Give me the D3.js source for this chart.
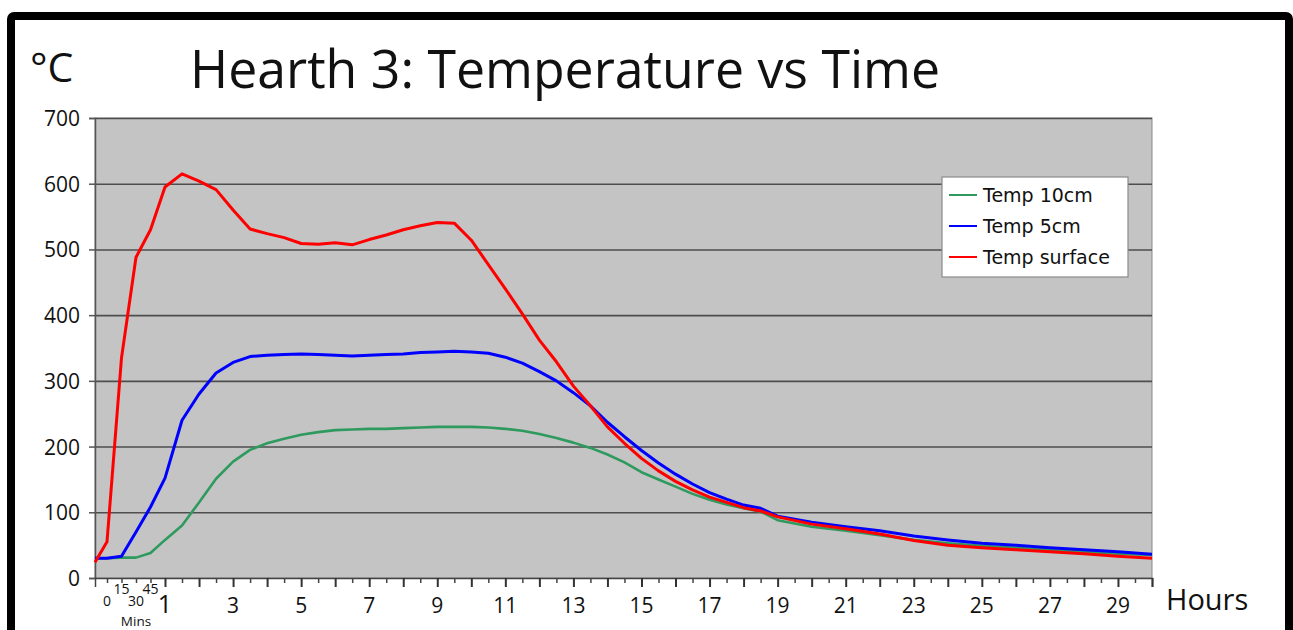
<!DOCTYPE html>
<html>
<head>
<meta charset="utf-8">
<script src="https://cdn.jsdelivr.net/npm/d3@7"></script>
<style>
  html, body { margin: 0; padding: 0; background: #ffffff; }
  svg { display: block; }
</style>
</head>
<body>
<svg id="chart" width="1293" height="630"></svg>
<script>
// ---------------- DATA ----------------
const hours = [-0.2, 0, 0.25, 0.5, 0.75, 1, 1.5, 2, 2.5, 3, 3.5, 4, 4.5, 5, 5.5, 6, 6.5, 7, 7.5, 8, 8.5, 9, 9.5, 10, 10.5, 11, 11.5, 12, 12.5, 13, 13.5, 14, 14.5, 15, 15.5, 16, 16.5, 17, 17.5, 18, 18.5, 19, 20, 21, 22, 23, 24, 25, 26, 27, 28, 29, 30];
const temp10cm = [30, 30, 31, 31, 38, 58, 80, 115, 151, 177, 195, 205, 212, 218, 222, 225, 226, 227, 227, 228, 229, 230, 230, 230, 229, 227, 224, 219, 213, 206, 198, 188, 176, 161, 150, 139, 128, 119, 112, 106, 101, 88, 78, 72, 65, 58, 53, 49, 46, 43, 40, 37, 35];
const temp5cm = [30, 30, 33, 70, 108, 152, 240, 280, 312, 328, 337, 339, 340, 341, 340, 339, 338, 339, 340, 341, 343, 344, 345, 344, 342, 336, 327, 314, 300, 282, 262, 237, 215, 194, 175, 158, 143, 130, 120, 111, 106, 94, 85, 78, 72, 64, 58, 53, 50, 46, 43, 40, 36];
const tempSurface = [24, 55, 335, 488, 530, 595, 615, 604, 591, 560, 531, 524, 518, 509, 508, 510, 507, 515, 522, 530, 536, 541, 540, 514, 477, 440, 402, 362, 329, 292, 262, 230, 205, 182, 163, 147, 134, 123, 115, 107, 102, 93, 82, 75, 67, 57, 50, 46, 43, 40, 37, 33, 30];

const seriesNames = ["Temp 10cm", "Temp 5cm", "Temp surface"];
const seriesColors = ["#2e9a5e", "#0000ff", "#ff0000"];

const yTicks = [0, 100, 200, 300, 400, 500, 600, 700];
const hourLabels = [1, 3, 5, 7, 9, 11, 13, 15, 17, 19, 21, 23, 25, 27, 29];
const minuteTicks = [0, 0.25, 0.5, 0.75];
const minuteLabels = [{v: 0, t: "0", row: 1}, {v: 0.25, t: "15", row: 0}, {v: 0.5, t: "30", row: 1}, {v: 0.75, t: "45", row: 0}];
const title = "Hearth 3: Temperature vs Time";

// ---------------- LAYOUT ----------------
const svg = d3.select("#chart");
const W = 1293, H = 630;
const plot = {left: 95, top: 118, right: 1152, bottom: 578};
const MYRIAD = "'Open Sans', 'Noto Sans', sans-serif";

// frame
svg.append("rect").attr("x", 0).attr("y", 0).attr("width", W).attr("height", H).attr("fill", "#ffffff");
svg.append("rect").attr("x", 11).attr("y", 16).attr("width", 1278).attr("height", 700)
  .attr("fill", "none").attr("stroke", "#000").attr("stroke-width", 8).attr("rx", 3);

// scales
const x = d3.scaleLinear().domain([-0.2, 0, 1, 30]).range([plot.left, 107, 165, plot.right]);
const y = d3.scaleLinear().domain([0, 700]).range([plot.bottom, plot.top]);

// plot background
svg.append("rect").attr("x", plot.left).attr("y", plot.top)
  .attr("width", plot.right - plot.left).attr("height", plot.bottom - plot.top)
  .attr("fill", "#c4c4c4").attr("stroke", "#8a8a8a").attr("stroke-width", 1);

// gridlines
svg.append("g")
  .attr("transform", `translate(${plot.left},0)`)
  .call(d3.axisLeft(y).tickValues(yTicks.slice(1)).tickSize(-(plot.right - plot.left)).tickFormat(""))
  .call(g => g.select(".domain").remove())
  .call(g => g.selectAll("line").attr("stroke", "#4e4e4e").attr("stroke-width", 1.6));

// y axis ticks (outside)
svg.append("g")
  .attr("transform", `translate(${plot.left},0)`)
  .call(d3.axisLeft(y).tickValues(yTicks).tickSize(6).tickFormat(""))
  .call(g => g.select(".domain").attr("stroke", "#555").attr("stroke-width", 1.5))
  .call(g => g.selectAll("line").attr("stroke", "#555").attr("stroke-width", 1.5));

// y labels
svg.append("g").selectAll("text").data(yTicks).join("text")
  .attr("x", 80).attr("y", d => y(d) + 8)
  .attr("text-anchor", "end")
  .attr("font-family", MYRIAD).attr("font-size", 21).attr("fill", "#111")
  .text(d => d);

// x axis: major (hour) ticks, minor (half-hour) ticks, minute ticks
const majorTicks = d3.range(1, 31);
const minorTicks = d3.range(1.5, 30, 1);
svg.append("g")
  .attr("transform", `translate(0,${plot.bottom})`)
  .call(d3.axisBottom(x).tickValues(majorTicks).tickSize(9).tickFormat(""))
  .call(g => g.select(".domain").attr("stroke", "#444").attr("stroke-width", 1.5))
  .call(g => g.selectAll("line").attr("stroke", "#333").attr("stroke-width", 2));
svg.append("g")
  .attr("transform", `translate(0,${plot.bottom})`)
  .call(d3.axisBottom(x).tickValues(minorTicks.concat(minuteTicks)).tickSize(5).tickFormat(""))
  .call(g => g.select(".domain").remove())
  .call(g => g.selectAll("line").attr("stroke", "#444").attr("stroke-width", 1.5));

// hour labels
svg.append("g").selectAll("text").data(hourLabels).join("text")
  .attr("x", d => x(d)).attr("y", 613)
  .attr("text-anchor", "middle")
  .attr("font-family", MYRIAD).attr("font-size", d => d === 1 ? 25 : 21).attr("fill", "#111")
  .text(d => d);

// minute labels
svg.append("g").selectAll("text").data(minuteLabels).join("text")
  .attr("x", d => x(d.v)).attr("y", d => d.row === 0 ? 594 : 606)
  .attr("text-anchor", "middle")
  .attr("font-family", MYRIAD).attr("font-size", 14).attr("fill", "#111")
  .text(d => d.t);
svg.append("text").attr("x", x(0.5)).attr("y", 625.5).attr("text-anchor", "middle")
  .attr("font-family", MYRIAD).attr("font-size", 13.5).attr("fill", "#111").text("Mins");

// axis titles & title
svg.append("text").attr("x", 1166).attr("y", 610)
  .attr("font-family", MYRIAD).attr("font-size", 29).attr("fill", "#111").text("Hours");
svg.append("text").attr("x", 30).attr("y", 82)
  .attr("font-family", MYRIAD).attr("font-size", 41).attr("fill", "#111").text("°C");
svg.append("text").attr("x", 190).attr("y", 88)
  .attr("font-family", MYRIAD).attr("font-size", 53).attr("fill", "#111")
  .attr("textLength", 750).attr("lengthAdjust", "spacingAndGlyphs")
  .text(title);

// lines
const seriesData = [temp10cm, temp5cm, tempSurface];
const line = d3.line().x(d => x(d[0])).y(d => y(d[1]));
const gLines = svg.append("g");
seriesData.forEach((vals, i) => {
  gLines.append("path")
    .datum(hours.map((h, j) => [h, vals[j]]))
    .attr("d", line)
    .attr("fill", "none")
    .attr("stroke", seriesColors[i])
    .attr("stroke-width", i === 0 ? 2.6 : 3)
    .attr("stroke-linejoin", "round");
});

// legend
const lg = svg.append("g").attr("transform", "translate(942,177)");
lg.append("rect").attr("width", 186).attr("height", 100)
  .attr("fill", "#ffffff").attr("stroke", "#8a8a8a").attr("stroke-width", 1.2);
seriesNames.forEach((n, i) => {
  const cy = 18 + i * 31;
  lg.append("line").attr("x1", 7).attr("x2", 35).attr("y1", cy).attr("y2", cy)
    .attr("stroke", seriesColors[i]).attr("stroke-width", 2);
  lg.append("text").attr("x", 41).attr("y", cy + 7)
    .attr("font-family", "'DejaVu Sans', sans-serif").attr("font-size", 19).attr("fill", "#111")
    .text(n);
});
</script>
</body>
</html>
